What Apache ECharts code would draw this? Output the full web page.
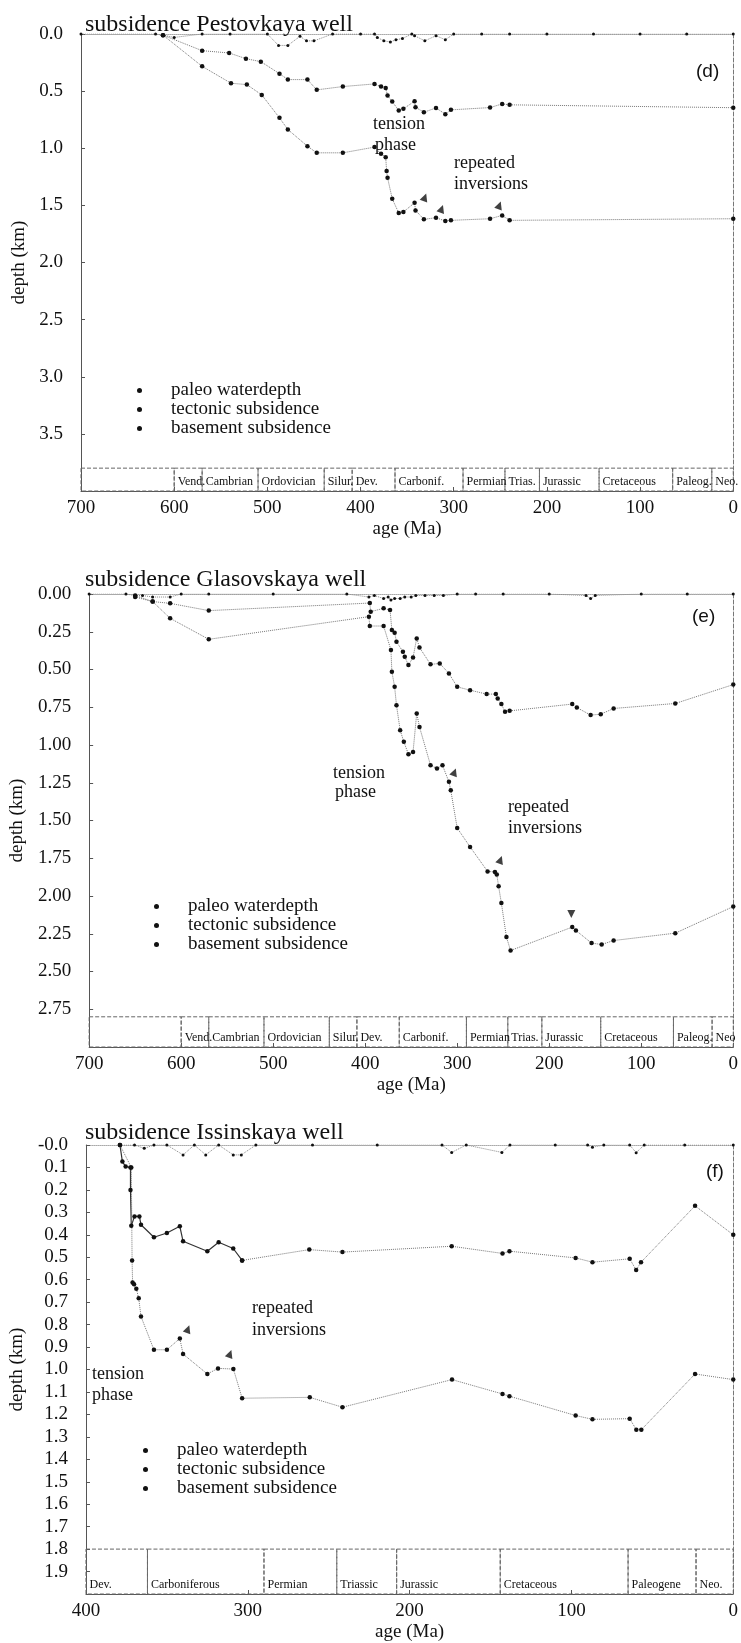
<!DOCTYPE html>
<html><head><meta charset="utf-8">
<script src="https://cdn.jsdelivr.net/npm/echarts@6/dist/echarts.min.js"></script>
<style>html,body{margin:0;padding:0;background:#fff}#c{width:741px;height:1643px}</style>
</head><body><div id="c"></div>
<script>
// ---------- Panel (d) Pestovkaya ----------
const dTitle = 'subsidence Pestovkaya well';
const dYTicks = ['0.0','0.5','1.0','1.5','2.0','2.5','3.0','3.5'];
const dPaleoAge   = [700, 620, 612, 600, 570, 540, 500, 488, 478, 465, 458, 450, 430, 400, 385, 382, 375, 368, 362, 355, 345, 342, 331, 319, 309, 300, 270, 240, 200, 150, 100, 50, 0];
const dPaleoDepth = [0, 0, 0.01, 0.03, 0, 0, 0, 0.10, 0.10, 0.02, 0.06, 0.06, 0, 0, 0, 0.03, 0.06, 0.07, 0.05, 0.04, 0, 0.015, 0.06, 0.015, 0.05, 0, 0, 0, 0, 0, 0, 0, 0];
const dTectAge   = [612, 570, 541, 523, 507, 487, 478, 457, 447, 419, 385, 378, 373, 371, 366, 359, 354, 342, 341, 332, 319, 309, 303, 261, 248, 240, 0];
const dTectDepth = [0.01, 0.146, 0.166, 0.216, 0.242, 0.347, 0.399, 0.399, 0.489, 0.460, 0.437, 0.460, 0.472, 0.539, 0.591, 0.670, 0.655, 0.588, 0.641, 0.685, 0.647, 0.702, 0.664, 0.644, 0.612, 0.620, 0.645];
const dBaseAge   = [612, 570, 539, 522, 506, 487, 478, 457, 447, 419, 385, 378, 373, 372, 371, 366, 359, 354, 342, 341, 332, 319, 309, 303, 261, 248, 240, 0];
const dBaseDepth = [0.01, 0.283, 0.431, 0.443, 0.533, 0.734, 0.836, 0.982, 1.040, 1.040, 0.990, 1.049, 1.078, 1.200, 1.258, 1.442, 1.567, 1.558, 1.477, 1.544, 1.622, 1.608, 1.637, 1.631, 1.617, 1.588, 1.631, 1.617];
const dArrowAge = [331, 313, 251];
const dArrowDepth = [1.43, 1.53, 1.50];
const dPeriods = ['', 'Vend.', 'Cambrian', 'Ordovician', 'Silur.', 'Dev.', 'Carbonif.', 'Permian', 'Trias.', 'Jurassic', 'Cretaceous', 'Paleog.', 'Neo.'];
const dBounds  = [700, 600, 570, 510, 439, 409, 363, 290, 245, 208, 144, 65, 23, 0];

// ---------- Panel (e) Glasovskaya ----------
const eTitle = 'subsidence Glasovskaya well';
const eYTicks = ['0.00','0.25','0.50','0.75','1.00','1.25','1.50','1.75','2.00','2.25','2.50','2.75'];
const ePaleoAge   = [700, 660, 650, 642, 631, 612, 600, 570, 500, 420, 396, 390, 380, 375, 372, 368, 362, 357, 350, 345, 335, 325, 315, 300, 280, 250, 200, 160, 155, 150, 100, 50, 0];
const ePaleoDepth = [0, 0, 0.01, 0.01, 0.02, 0.02, 0, 0, 0, 0, 0.02, 0.01, 0.03, 0.02, 0.04, 0.03, 0.03, 0.02, 0.02, 0.01, 0.01, 0.01, 0.01, 0, 0, 0, 0, 0.01, 0.03, 0.01, 0, 0, 0];
const eTectAge   = [650, 631, 612, 570, 395, 394, 380, 373, 371, 368, 366, 359, 357, 353, 348, 344, 341, 329, 319, 309, 300, 286, 268, 258, 256, 252, 248, 243, 175, 170, 155, 144, 130, 63, 0];
const eTectDepth = [0.01, 0.05, 0.062, 0.11, 0.06, 0.117, 0.095, 0.106, 0.239, 0.256, 0.316, 0.382, 0.416, 0.471, 0.42, 0.294, 0.354, 0.466, 0.46, 0.526, 0.615, 0.637, 0.663, 0.663, 0.692, 0.729, 0.78, 0.774, 0.729, 0.752, 0.802, 0.796, 0.758, 0.725, 0.6];
const eBaseAge   = [650, 631, 612, 570, 396, 395, 380, 372, 371, 368, 366, 362, 358, 353, 348, 344, 341, 329, 322, 316, 309, 307, 300, 286, 267, 259, 257, 255, 252, 246.5, 242, 175, 171, 154, 143, 130, 63, 0];
const eBaseDepth = [0.02, 0.05, 0.161, 0.30, 0.15, 0.212, 0.212, 0.371, 0.515, 0.615, 0.736, 0.902, 0.979, 1.061, 1.046, 0.791, 0.88, 1.134, 1.156, 1.134, 1.244, 1.30, 1.55, 1.675, 1.837, 1.841, 1.857, 1.936, 2.047, 2.272, 2.361, 2.206, 2.228, 2.312, 2.321, 2.295, 2.246, 2.07];
const eArrowAge = [303, 253];
const eArrowDepth = [1.18, 1.76];
const eArrowDownAge = [176];
const eArrowDownDepth = [2.12];
const ePeriods = ['', 'Vend.', 'Cambrian', 'Ordovician', 'Silur.', 'Dev.', 'Carbonif.', 'Permian', 'Trias.', 'Jurassic', 'Cretaceous', 'Paleog.', 'Neo'];
const eBounds  = [700, 600, 570, 510, 439, 409, 363, 290, 245, 208, 144, 65, 23, 0];

// ---------- Panel (f) Issinskaya ----------
const fTitle = 'subsidence Issinskaya well';
const fYTicks = ['-0.0','0.1','0.2','0.3','0.4','0.5','0.6','0.7','0.8','0.9','1.0','1.1','1.2','1.3','1.4','1.5','1.6','1.7','1.8','1.9'];
const fPaleoAge   = [379, 370, 364, 358, 350, 340, 333, 326, 318, 309, 304, 295, 260, 220, 180, 174, 165, 143, 138, 110, 90, 87, 80, 64, 60, 55, 30, 0];
const fPaleoDepth = [0, 0, 0.015, 0, 0, 0.044, 0, 0.044, 0, 0.044, 0.044, 0, 0, 0, 0, 0.033, 0, 0.033, 0, 0, 0, 0.01, 0, 0, 0.034, 0, 0, 0];
const fTectAge   = [379, 377.5, 375.5, 372.5, 372.5, 372, 370, 367, 366, 358, 350, 342, 340, 325, 318, 309, 303.5, 262, 241.5, 174, 142.6, 138.3, 97.4, 87, 64, 60, 57, 23.6, 0];
const fTectDepth = [0, 0.074, 0.096, 0.1, 0.2, 0.36, 0.318, 0.318, 0.355, 0.411, 0.392, 0.362, 0.429, 0.473, 0.433, 0.461, 0.514, 0.466, 0.477, 0.451, 0.483, 0.473, 0.503, 0.522, 0.507, 0.557, 0.522, 0.271, 0.4];
const fTectSolidCount = 17; // first 17 points drawn with a solid line
const fBaseAge   = [379, 372, 371.5, 371.2, 370.3, 368.9, 367.4, 366, 358, 350, 342, 340, 325, 318.4, 308.9, 303.5, 261.7, 241.5, 173.8, 142.6, 138.3, 97.4, 87, 64, 59.9, 56.8, 23.6, 0];
const fBaseDepth = [0, 0.1, 0.514, 0.613, 0.62, 0.64, 0.683, 0.764, 0.912, 0.912, 0.862, 0.931, 1.02, 0.995, 0.998, 1.128, 1.124, 1.168, 1.045, 1.109, 1.119, 1.205, 1.222, 1.219, 1.268, 1.268, 1.02, 1.045];
const fArrowAge = [337, 311];
const fArrowDepth = [0.82, 0.93];
const fPeriods = ['Dev.', 'Carboniferous', 'Permian', 'Triassic', 'Jurassic', 'Cretaceous', 'Paleogene', 'Neo.'];
const fBounds  = [400, 362, 290, 245, 208, 144, 65, 23, 0];

const seriesNames = ['paleo waterdepth', 'tectonic subsidence', 'basement subsidence'];

// ---------- build ----------
const SERIF = 'Liberation Serif';
const zip = (a, b) => a.map((v, i) => [v, b[i]]);

const fTect = zip(fTectAge, fTectDepth);
const panels = [
  { title: dTitle, top: 34, height: 457, xMax: 700, yMax: 4.0, yInt: 0.5, ticks: dYTicks, bandTop: 3.8,
    periods: dPeriods, bounds: dBounds,
    paleo: zip(dPaleoAge, dPaleoDepth), tect: [zip(dTectAge, dTectDepth)], base: zip(dBaseAge, dBaseDepth),
    up: zip(dArrowAge, dArrowDepth), down: [],
    legend: { left: 132, top: 376 } },
  { title: eTitle, top: 594, height: 453, xMax: 700, yMax: 3.0, yInt: 0.25, ticks: eYTicks, bandTop: 2.8,
    periods: ePeriods, bounds: eBounds,
    paleo: zip(ePaleoAge, ePaleoDepth), tect: [zip(eTectAge, eTectDepth)], base: zip(eBaseAge, eBaseDepth),
    up: zip(eArrowAge, eArrowDepth), down: zip(eArrowDownAge, eArrowDownDepth),
    legend: { left: 149, top: 892 } },
  { title: fTitle, top: 1145, height: 449, xMax: 400, yMax: 2.0, yInt: 0.1, ticks: fYTicks, bandTop: 1.8,
    periods: fPeriods, bounds: fBounds,
    paleo: zip(fPaleoAge, fPaleoDepth),
    tect: [fTect.slice(0, fTectSolidCount), fTect.slice(fTectSolidCount - 1)], base: zip(fBaseAge, fBaseDepth),
    up: zip(fArrowAge, fArrowDepth), down: [],
    legend: { left: 138, top: 1436 } }
];

const titleTops = [8, 563, 1116];
const grid = [], xAxis = [], yAxis = [], series = [], legend = [], title = [];
const axisFont = { fontFamily: SERIF, fontSize: 19, color: '#111' };

panels.forEach((p, i) => {
  grid.push({ left: 81, width: 655, top: p.top, height: p.height });
  title.push({ text: p.title, left: 80, top: titleTops[i], textStyle: { fontFamily: SERIF, fontSize: 24, fontWeight: 'normal', color: '#111' } });
  xAxis.push({
    gridIndex: i, type: 'value', inverse: true, min: 0, max: p.xMax, interval: 100,
    axisLine: { onZero: false, lineStyle: { color: '#555', width: 1 } },
    axisTick: { inside: true, length: 4, lineStyle: { color: '#555' } },
    axisLabel: Object.assign({ margin: 8 }, axisFont),
    splitLine: { show: false },
    name: 'age (Ma)', nameLocation: 'middle', nameGap: 29, nameTextStyle: axisFont
  });
  yAxis.push({
    gridIndex: i, type: 'value', inverse: true, min: 0, max: p.yMax, interval: p.yInt,
    axisLine: { show: true, onZero: false, lineStyle: { color: '#555', width: 1 } },
    axisTick: { show: true, inside: true, length: 4, lineStyle: { color: '#555' } },
    axisLabel: Object.assign({ margin: 18, formatter: v => { const k = Math.round(v / p.yInt); return p.ticks[k] !== undefined ? p.ticks[k] : ''; } }, axisFont),
    splitLine: { show: false },
    name: 'depth (km)', nameLocation: 'middle', nameGap: 46, nameRotate: 90, nameTextStyle: axisFont
  });
  const dot = { color: '#111' };
  const band = [];
  for (let k = 0; k < p.periods.length; k++) {
    band.push([{ xAxis: p.bounds[k], yAxis: p.bandTop, name: p.periods[k] }, { xAxis: p.bounds[k + 1], yAxis: p.yMax }]);
  }
  series.push({
    name: seriesNames[0], type: 'line', xAxisIndex: i, yAxisIndex: i, data: p.paleo,
    symbol: 'circle', symbolSize: 3, itemStyle: dot, lineStyle: { type: 'dotted', color: '#888', width: 1 },
    animation: false, z: 3,
    markArea: {
      silent: true,
      itemStyle: { color: 'rgba(0,0,0,0)', borderColor: '#666', borderWidth: 1, borderType: 'dashed' },
      label: { position: 'insideBottomLeft', distance: 4, fontFamily: SERIF, fontSize: 12, color: '#111' },
      data: band
    }
  });
  p.tect.forEach((seg, s) => {
    const solid = p.tect.length > 1 && s === 0;
    series.push({
      name: seriesNames[1], type: 'line', xAxisIndex: i, yAxisIndex: i, data: seg,
      symbol: 'circle', symbolSize: 4.5, itemStyle: dot,
      lineStyle: solid ? { type: 'solid', color: '#333', width: 1.2 } : { type: 'dotted', color: '#777', width: 1 },
      animation: false, z: 4
    });
  });
  series.push({
    name: seriesNames[2], type: 'line', xAxisIndex: i, yAxisIndex: i, data: p.base,
    symbol: 'circle', symbolSize: 4.5, itemStyle: dot, lineStyle: { type: 'dotted', color: '#777', width: 1 },
    animation: false, z: 4
  });
  series.push({
    name: 'inversion', type: 'scatter', xAxisIndex: i, yAxisIndex: i, data: p.up,
    symbol: 'triangle', symbolSize: 8, symbolRotate: -20, itemStyle: dot, animation: false, z: 5
  });
  if (p.down.length) series.push({
    name: 'inversion', type: 'scatter', xAxisIndex: i, yAxisIndex: i, data: p.down,
    symbol: 'triangle', symbolSize: 8, symbolRotate: 180, itemStyle: dot, animation: false, z: 5
  });
  legend.push({
    data: seriesNames, orient: 'vertical', left: p.legend.left, top: p.legend.top,
    icon: 'circle', itemWidth: 5, itemHeight: 5, itemGap: 0, selectedMode: false,
    formatter: n => '{s|}' + n,
    textStyle: { fontFamily: SERIF, fontSize: 19, color: '#111', lineHeight: 19, rich: { s: { width: 24 } } }
  });
});

// frame lines (top dotted, right dashed)
panels.forEach((p, i) => {
  xAxis.push({ gridIndex: i, type: 'value', position: 'top', inverse: true, min: 0, max: p.xMax,
    axisLine: { show: true, onZero: false, lineStyle: { color: '#aaa', type: 'dotted' } },
    axisTick: { show: false }, axisLabel: { show: false }, splitLine: { show: false } });
  yAxis.push({ gridIndex: i, type: 'value', position: 'right', inverse: true, min: 0, max: p.yMax,
    axisLine: { show: true, onZero: false, lineStyle: { color: '#777', type: 'dashed' } },
    axisTick: { show: false }, axisLabel: { show: false }, splitLine: { show: false } });
});

const notes = [
  ['tension', 373, 124], ['phase', 375, 145], ['repeated', 454, 163], ['inversions', 454, 184],
  ['tension', 333, 773], ['phase', 335, 792], ['repeated', 508, 807], ['inversions', 508, 828],
  ['repeated', 252, 1308], ['inversions', 252, 1330], ['tension', 92, 1374], ['phase', 92, 1395]
];
const tags = [['(d)', 696, 72], ['(e)', 692, 617], ['(f)', 706, 1172]];
const graphic = notes.map(n => ({ type: 'text', x: n[1], y: n[2], style: { text: n[0], font: '18px "Liberation Serif"', fill: '#111', verticalAlign: 'middle', textVerticalAlign: 'middle' } }))
  .concat(tags.map(t => ({ type: 'text', x: t[1], y: t[2], style: { text: t[0], font: '19px "Liberation Sans"', fill: '#111', verticalAlign: 'middle', textVerticalAlign: 'middle' } })));

const chart = echarts.init(document.getElementById('c'), null, { renderer: 'canvas' });
chart.setOption({ animation: false, backgroundColor: '#fff', title, grid, xAxis, yAxis, series, legend, graphic });
</script></body></html>
